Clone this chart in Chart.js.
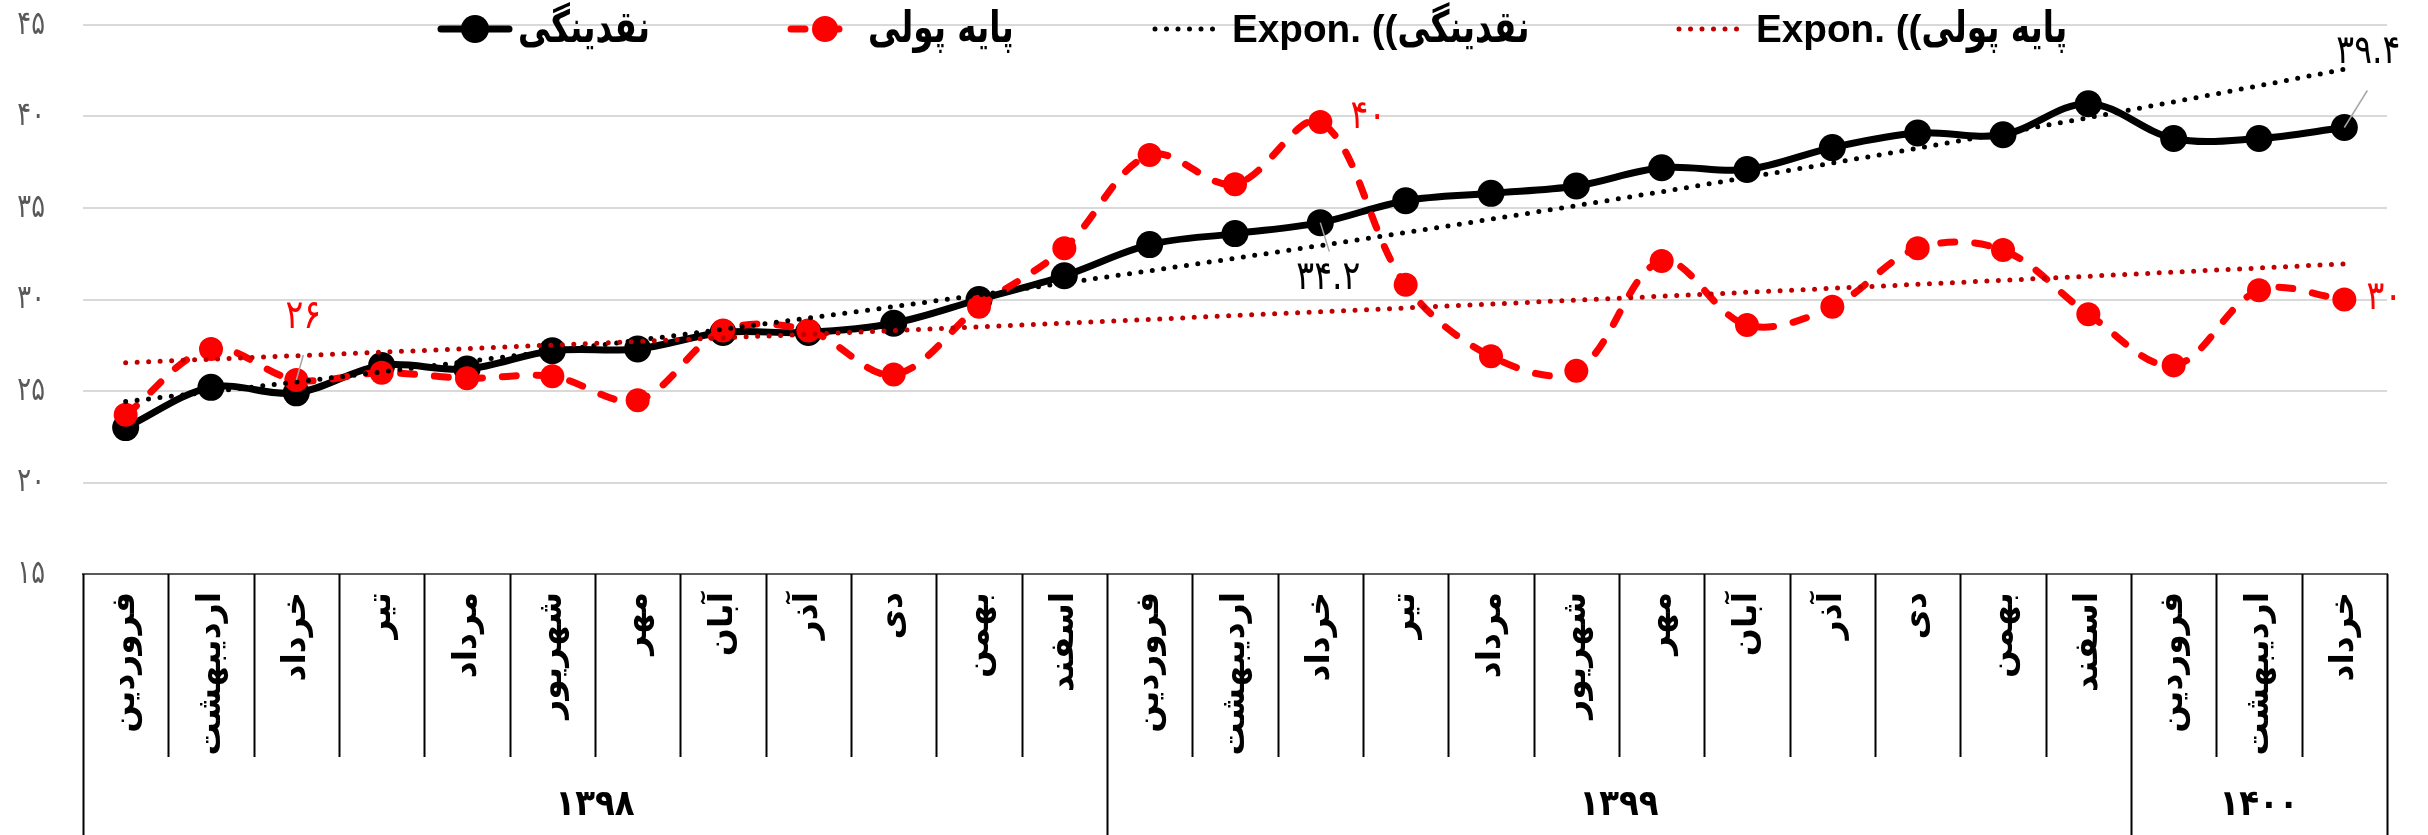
<!DOCTYPE html>
<html>
<head>
<meta charset="utf-8">
<script src="https://cdn.jsdelivr.net/npm/chart.js@4.4.0/dist/chart.umd.min.js"></script>
<style>
  html, body { margin: 0; padding: 0; background: #fff; }
</style>
</head>
<body>
<canvas id="chart" width="2428" height="835"></canvas>
<script>
// ماه ها و سال ها
const months = [
  'فروردین', 'اردیبهشت', 'خرداد', 'تیر', 'مرداد', 'شهریور', 'مهر', 'آبان', 'آذر', 'دی', 'بهمن', 'اسفند',
  'فروردین', 'اردیبهشت', 'خرداد', 'تیر', 'مرداد', 'شهریور', 'مهر', 'آبان', 'آذر', 'دی', 'بهمن', 'اسفند',
  'فروردین', 'اردیبهشت', 'خرداد'
];
const years = ['۱۳۹۸', '۱۳۹۹', '۱۴۰۰'];
const monthsPerYear = [12, 12, 3];

// نقدینگی و پایه پولی
const liquidity = [23.0, 25.2, 24.9, 26.4, 26.2, 27.2, 27.3, 28.2, 28.2, 28.7, 30.0, 31.3,
  33.0, 33.6, 34.2, 35.4, 35.8, 36.2, 37.2, 37.1, 38.3, 39.1, 39.0, 40.7,
  38.8, 38.8, 39.4];
const monetaryBase = [23.7, 27.3, 25.6, 26.0, 25.7, 25.8, 24.5, 28.3, 28.3, 25.9, 29.6, 32.8,
  37.9, 36.3, 39.7, 30.8, 26.9, 26.1, 32.1, 28.6, 29.6, 32.8, 32.7, 29.2,
  26.4, 30.5, 30.0];

const yTicks = [15, 20, 25, 30, 35, 40, 45];

const seriesNames = ['نقدینگی', 'پایه پولی', 'نقدینگی', 'پایه پولی'];
const trendPrefix = 'Expon. ((';

const fa = s => String(s).replace(/\d/g, d => '۰۱۲۳۴۵۶۷۸۹'[d]);

// روند نمایی (مثل اکسل)
function expTrend(arr) {
  const n = arr.length;
  let sx = 0, sy = 0, sxx = 0, sxy = 0;
  arr.forEach((v, i) => {
    const x = i + 1, y = Math.log(v);
    sx += x; sy += y; sxx += x * x; sxy += x * y;
  });
  const b = (n * sxy - sx * sy) / (n * sxx - sx * sx);
  const a = Math.exp((sy - b * sx) / n);
  return arr.map((v, i) => a * Math.exp(b * (i + 1)));
}

const RED = '#ff0000';
const DARKRED = '#c00000';
const DOTS = [0, 11.5];
const DASH = [14, 20];

// متن فشرده (فونت باریک تر)
function squeezeText(ctx, text, x, y, sx, align) {
  ctx.save();
  ctx.translate(x, y);
  ctx.scale(sx, 1);
  ctx.textAlign = align;
  ctx.fillText(text, 0, 0);
  ctx.restore();
}

// برچسب ها روی نقاط
const labelSpecs = [
  { ds: 1, i: 2, dx: 7, dy: -62, decimals: 0, color: RED, leader: [7, -25] },
  { ds: 1, i: 14, dx: 48, dy: -4, decimals: 0, color: RED },
  { ds: 0, i: 14, dx: 8, dy: 56, decimals: 1, color: '#000', leader: [9, 29] },
  { ds: 0, i: 26, dx: 24, dy: -75, decimals: 1, color: '#000', leader: [23, -37] },
  { ds: 1, i: 26, dx: 40, dy: -1, decimals: 0, color: RED }
];

const pointLabels = {
  id: 'pointLabels',
  afterDatasetsDraw(chart) {
    const ctx = chart.ctx;
    ctx.save();
    labelSpecs.forEach(s => {
      const pt = chart.getDatasetMeta(s.ds).data[s.i];
      const v = chart.data.datasets[s.ds].data[s.i];
      if (s.leader) {
        ctx.strokeStyle = '#a6a6a6';
        ctx.lineWidth = 1.5;
        ctx.beginPath();
        ctx.moveTo(pt.x, pt.y);
        ctx.lineTo(pt.x + s.leader[0], pt.y + s.leader[1]);
        ctx.stroke();
      }
      ctx.fillStyle = s.color;
      ctx.font = '40px "DejaVu Sans"';
      ctx.textBaseline = 'middle';
      squeezeText(ctx, fa(v.toFixed(s.decimals)), pt.x + s.dx, pt.y + s.dy, 0.83, 'center');
    });
    ctx.restore();
  }
};

// برچسب های محور عمودی
const yLabels = {
  id: 'yLabels',
  afterDraw(chart) {
    const ctx = chart.ctx;
    const ys = chart.scales.y;
    ctx.save();
    ctx.fillStyle = '#595959';
    ctx.font = '33px "DejaVu Sans"';
    ctx.textBaseline = 'middle';
    yTicks.forEach(v => squeezeText(ctx, fa(v), 45, ys.getPixelForValue(v), 0.78, 'right'));
    ctx.restore();
  }
};

// جدول محور افقی (ماه / سال)
const categoryTable = {
  id: 'categoryTable',
  afterDraw(chart) {
    const ctx = chart.ctx;
    const xs = chart.scales.x;
    const top = chart.chartArea.bottom;
    const monthBottom = 757;
    const bottom = chart.height;
    const half = (xs.getPixelForValue(1) - xs.getPixelForValue(0)) / 2;
    const edge = i => xs.getPixelForValue(i) - half;
    ctx.save();
    ctx.strokeStyle = '#000';
    ctx.lineWidth = 2;
    const yearEdges = [0];
    monthsPerYear.reduce((acc, n) => { yearEdges.push(acc + n); return acc + n; }, 0);
    for (let i = 0; i <= months.length; i++) {
      const x = Math.round(edge(i)) + 0.5;
      ctx.beginPath();
      ctx.moveTo(x, top);
      ctx.lineTo(x, yearEdges.includes(i) ? bottom : monthBottom);
      ctx.stroke();
    }
    ctx.fillStyle = '#000';
    ctx.font = 'bold 36px "DejaVu Sans"';
    ctx.textBaseline = 'middle';
    years.forEach((y, k) => {
      const x = (edge(yearEdges[k]) + edge(yearEdges[k + 1])) / 2;
      squeezeText(ctx, y, x, 806, 0.9, 'center');
    });
    ctx.restore();
  }
};

// راهنما
const legendDraw = {
  id: 'legendDraw',
  afterDraw(chart) {
    const ctx = chart.ctx;
    const styles = [
      { color: '#000', width: 7, dash: [], marker: 14, trend: false },
      { color: RED, width: 7, dash: DASH, marker: 13, trend: false },
      { color: '#000', width: 5, dash: DOTS, marker: 0, trend: true },
      { color: DARKRED, width: 5, dash: DOTS, marker: 0, trend: true }
    ];
    const starts = [438, 788, 1152, 1676];
    const symW = 74, gapSym = 6;
    const cy = 29, base = 42;
    ctx.save();
    const latin = 'bold 38.7px "Liberation Sans"';
    const arabic = 'bold 44px "DejaVu Sans"';
    ctx.font = arabic;
    const arSx = 132 / ctx.measureText(seriesNames[0]).width;
    seriesNames.forEach((t, k) => {
      const st = styles[k];
      let x = starts[k];
      ctx.strokeStyle = st.color;
      ctx.lineWidth = st.width;
      ctx.lineCap = 'round';
      ctx.setLineDash(st.dash);
      ctx.beginPath();
      ctx.moveTo(x + 3, cy);
      ctx.lineTo(x + symW - 3, cy);
      ctx.stroke();
      ctx.setLineDash([]);
      if (st.marker) {
        ctx.fillStyle = st.color;
        ctx.beginPath();
        ctx.arc(x + symW / 2, cy, st.marker, 0, Math.PI * 2);
        ctx.fill();
      }
      x += symW + gapSym;
      ctx.fillStyle = '#000';
      ctx.textAlign = 'left';
      ctx.textBaseline = 'alphabetic';
      if (st.trend) {
        ctx.font = latin;
        ctx.fillText(trendPrefix, x, base);
        x += ctx.measureText(trendPrefix).width;
      }
      ctx.font = arabic;
      squeezeText(ctx, t, x, base, arSx, 'left');
    });
    ctx.restore();
  }
};

new Chart(document.getElementById('chart').getContext('2d'), {
  type: 'line',
  data: {
    labels: months,
    datasets: [
      {
        label: seriesNames[0],
        data: liquidity,
        borderColor: '#000',
        backgroundColor: '#000',
        borderWidth: 7,
        pointRadius: 13.5,
        pointBorderWidth: 0,
        tension: 0.35,
        order: 3
      },
      {
        label: seriesNames[1],
        data: monetaryBase,
        borderColor: RED,
        backgroundColor: RED,
        borderWidth: 7,
        borderDash: DASH,
        borderCapStyle: 'round',
        pointRadius: 12,
        pointBorderWidth: 0,
        tension: 0.35,
        order: 2
      },
      {
        label: trendPrefix + seriesNames[2],
        data: expTrend(liquidity),
        borderColor: '#000',
        borderWidth: 5,
        borderDash: DOTS,
        borderCapStyle: 'round',
        pointRadius: 0,
        tension: 0,
        order: 1
      },
      {
        label: trendPrefix + seriesNames[3],
        data: expTrend(monetaryBase),
        borderColor: DARKRED,
        borderWidth: 5,
        borderDash: DOTS,
        borderCapStyle: 'round',
        pointRadius: 0,
        tension: 0,
        order: 0
      }
    ]
  },
  options: {
    responsive: false,
    devicePixelRatio: 1,
    animation: false,
    layout: { padding: { top: 25, right: 41, left: 0, bottom: 0 } },
    plugins: {
      legend: { display: false },
      tooltip: { enabled: false }
    },
    scales: {
      x: {
        offset: true,
        grid: { display: false, drawTicks: false },
        border: { display: true, color: '#595959', width: 2 },
        ticks: {
          autoSkip: false,
          minRotation: 90,
          maxRotation: 90,
          padding: 18,
          color: '#000',
          font: { family: 'DejaVu Sans', size: 33, weight: 'bold' }
        },
        afterFit: s => { s.height = 261; }
      },
      y: {
        min: yTicks[0],
        max: yTicks[yTicks.length - 1],
        afterBuildTicks: s => { s.ticks = yTicks.map(v => ({ value: v })); },
        grid: { color: '#d9d9d9', lineWidth: 2, drawTicks: false },
        border: { display: false },
        ticks: { display: false },
        afterFit: s => { s.width = 83; }
      }
    }
  },
  plugins: [pointLabels, yLabels, categoryTable, legendDraw]
});
</script>
</body>
</html>
